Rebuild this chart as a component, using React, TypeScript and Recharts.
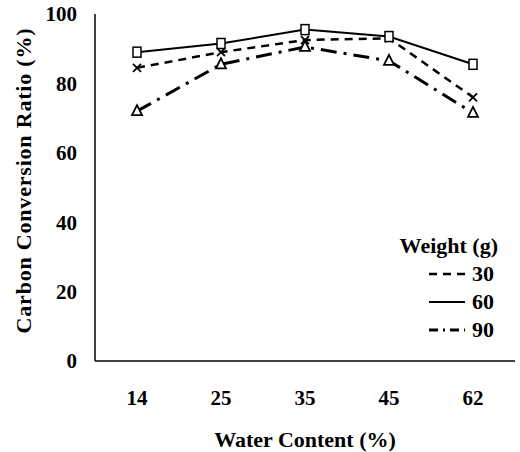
import { LineChart, Line, XAxis, YAxis } from 'recharts';

// Carbon conversion ratio vs. water content, three sample weights.
const waterContent = ['14', '25', '35', '45', '62'];
const w30 = [84.5, 89, 92.5, 93, 76];
const w60 = [89, 91.5, 95.5, 93.5, 85.5];
const w90 = [72, 85.5, 90.5, 86.5, 71.5];
const yTicks = [0, 20, 40, 60, 80, 100];

const data = waterContent.map((c, i) => ({ c, w30: w30[i], w60: w60[i], w90: w90[i] }));

const font = '"Liberation Serif", "Times New Roman", serif';

const SquareDot = (p: any) => (
  <rect key={p.key} x={p.cx - 4} y={p.cy - 5} width={8} height={10} fill="#fff" stroke="#000" strokeWidth={1.5} />
);
const CrossDot = (p: any) => (
  <path key={p.key} d={`M${p.cx - 4},${p.cy - 4}L${p.cx + 4},${p.cy + 4}M${p.cx + 4},${p.cy - 4}L${p.cx - 4},${p.cy + 4}`} stroke="#000" strokeWidth={1.8} />
);
const TriDot = (p: any) => (
  <path key={p.key} d={`M${p.cx},${p.cy - 6}L${p.cx + 5},${p.cy + 4}L${p.cx - 5},${p.cy + 4}Z`} fill="#fff" stroke="#000" strokeWidth={1.8} />
);

const legendItems = [
  { label: '30', dash: '8 6', width: 2.5 },
  { label: '60', dash: undefined, width: 2 },
  { label: '90', dash: '9 5 2 5', width: 3 },
];

function WeightLegend() {
  return (
    <div style={{ position: 'absolute', left: 378, top: 232, fontFamily: font, fontWeight: 'bold', fontSize: 22, color: '#000', textAlign: 'right', width: 120 }}>
      <div style={{ lineHeight: '28px' }}>Weight (g)</div>
      {legendItems.map((it) => (
        <div key={it.label} style={{ lineHeight: '28px', display: 'flex', justifyContent: 'flex-end', alignItems: 'center' }}>
          <svg width={36} height={10} style={{ marginRight: 7 }}>
            <line x1={0} y1={5} x2={36} y2={5} stroke="#000" strokeWidth={it.width} strokeDasharray={it.dash} />
          </svg>
          <span style={{ width: 26, textAlign: 'left' }}>{it.label}</span>
        </div>
      ))}
    </div>
  );
}

export default function App() {
  const tickStyle = { fontFamily: font, fontWeight: 'bold', fontSize: 21, fill: '#000' };
  return (
    <div style={{ position: 'absolute', left: 0, top: 0, width: 520, height: 452, background: '#fff' }}>
      <LineChart width={520} height={452} data={data} margin={{ top: 14, right: 5, left: 0, bottom: 0 }}>
        <XAxis
          dataKey="c"
          height={91}
          padding={{ left: 42, right: 42 }}
          tickLine={false}
          tickSize={0}
          tickMargin={29}
          axisLine={{ stroke: '#000', strokeWidth: 1.5 }}
          tick={tickStyle}
          label={{ value: 'Water Content (%)', position: 'insideBottom', offset: 5, fontFamily: font, fontWeight: 'bold', fontSize: 22, fill: '#000' }}
        />
        <XAxis xAxisId="top" orientation="top" height={0} tick={false} tickLine={false} axisLine={{ stroke: '#888', strokeDasharray: '2 2' }} />
        <YAxis
          width={95}
          domain={[0, 100]}
          ticks={yTicks}
          tickLine={false}
          tickSize={0}
          tickMargin={18}
          axisLine={{ stroke: '#000', strokeWidth: 1.5 }}
          tick={tickStyle}
          label={{ value: 'Carbon Conversion Ratio (%)', angle: -90, position: 'center', dx: -24, dy: -7, letterSpacing: 0.8, fontFamily: font, fontWeight: 'bold', fontSize: 22, fill: '#000' }}
        />
        <YAxis yAxisId="right" orientation="right" width={0} tick={false} tickLine={false} axisLine={{ stroke: '#888', strokeDasharray: '2 3' }} />
        <Line dataKey="w30" stroke="#000" strokeWidth={2.5} strokeDasharray="8 6" dot={CrossDot} isAnimationActive={false} />
        <Line dataKey="w60" stroke="#000" strokeWidth={2} dot={SquareDot} isAnimationActive={false} />
        <Line dataKey="w90" stroke="#000" strokeWidth={3} strokeDasharray="16 7 3 7" dot={TriDot} isAnimationActive={false} />
      </LineChart>
      <WeightLegend />
    </div>
  );
}
